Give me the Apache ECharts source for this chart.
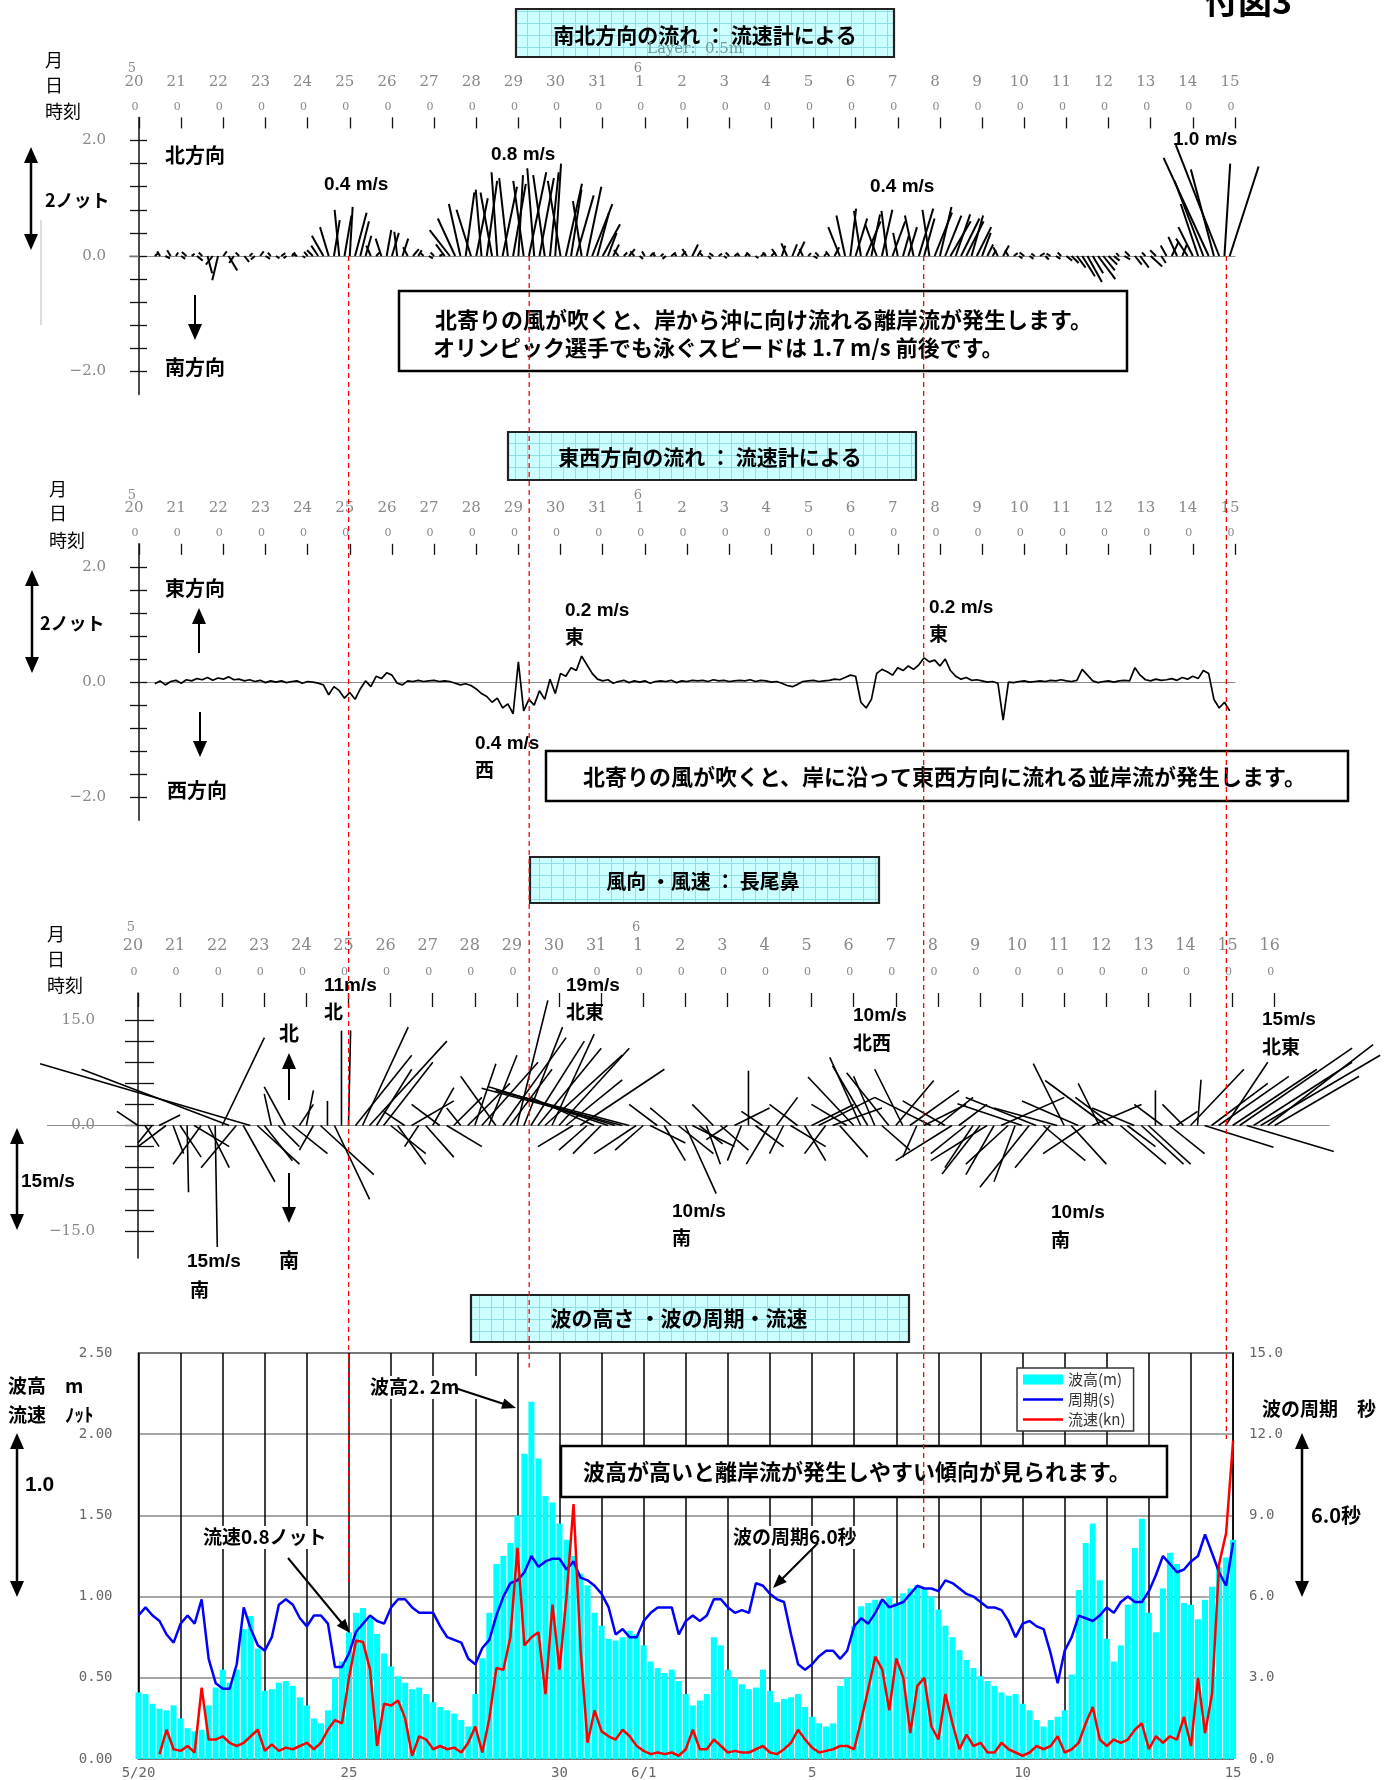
<!DOCTYPE html>
<html><head><meta charset="utf-8">
<script src="https://cdn.jsdelivr.net/npm/echarts@6/dist/echarts.min.js"></script>
<style>html,body{margin:0;padding:0;background:#fff}#c{width:1397px;height:1780px}</style>
</head><body><div id="c"></div>
<script>
// ---------------- DATA ----------------
// top axes: day labels (index = days after 5/20 0:00)
const dayLabels = ['20','21','22','23','24','25','26','27','28','29','30','31','1','2','3','4','5','6','7','8','9','10','11','12','13','14','15','16'];
const hourLabel = '0';
const monthTickDays = [0, 12];
const monthTickText = ['5', '6'];
const p1Ticks = [-2,-1.6,-1.2,-0.8,-0.4,0,0.4,0.8,1.2,1.6,2];
const p1Labels = [-2,0,2];
const windTicks = [-15,-12,-9,-6,-3,0,3,6,9,12,15];
const windLabels = [-15,0,15];
const waveTickDays = [0,5,10,12,16,21,26];
const waveTickText = ['5/20','25','30','6/1','5','10','15'];

// Panel 1 / 2 time base: 3-hourly from day 0.375
const curStart = 0.375, curStep = 0.125;
// north component (knots)
const snV = [0.05,0.08,-0.04,0.10,0.06,-0.05,0.07,0.04,
 -0.08,0.06,-0.30,-0.15,-0.42,0.08,-0.25,-0.12,
 0.06,-0.10,0.05,-0.06,0.08,-0.05,0.06,-0.04,
 0.05,-0.04,0.06,0.04,-0.03,0.07,0.10,0.18,
 0.35,0.50,0.62,0.80,0.70,0.85,0.75,0.60,
 0.35,0.18,0.06,0.30,0.45,0.40,0.42,0.30,
 0.15,0.12,0.10,0.05,-0.04,0.06,0.04,0.20,
 0.45,0.65,0.90,1.10,0.80,1.00,1.15,1.30,
 1.10,1.45,1.20,1.35,1.25,1.40,1.30,1.45,
 1.52,1.35,1.40,1.45,1.60,1.30,1.25,1.15,
 1.05,0.95,1.20,0.90,0.75,0.55,0.40,0.20,
 0.10,0.06,0.12,0.08,-0.05,0.08,0.06,0.05,
 0.04,-0.05,0.06,0.05,0.08,0.12,0.20,0.10,
 0.06,-0.05,0.05,0.04,-0.04,0.06,0.05,0.04,
 0.05,0.06,-0.04,0.05,0.06,0.07,0.12,0.18,
 0.22,0.20,0.25,0.12,0.05,-0.04,0.06,0.05,
 0.08,0.15,0.50,0.70,0.82,0.65,0.78,0.60,
 0.72,0.55,0.80,0.78,0.60,0.40,0.35,0.50,
 0.70,0.82,0.65,0.80,0.75,0.85,0.70,0.60,
 0.72,0.65,0.60,0.70,0.50,0.40,0.20,0.10,
 0.15,0.18,0.10,0.05,-0.04,0.06,-0.05,0.04,
 0.05,-0.06,0.04,-0.05,0.06,-0.08,-0.12,-0.20,
 -0.35,-0.45,-0.30,-0.40,-0.25,-0.15,-0.08,0.05,
 -0.06,0.08,-0.15,-0.20,0.06,-0.18,0.10,-0.12,
 0.18,0.25,0.33,0.20,0.30,0.50,0.90,1.30,
 1.70,1.50,1.92,1.60,1.55];
// east component of the sticks (knots)
const snU = [0.06,-0.05,0.08,-0.06,0.04,0.07,-0.08,0.05,
 0.10,-0.06,0.08,-0.12,-0.10,0.06,0.15,-0.08,
 -0.06,0.08,0.05,-0.07,0.06,0.08,-0.05,0.06,
 0.07,-0.05,0.06,-0.08,0.05,-0.06,-0.10,-0.12,
 -0.20,-0.15,0.10,-0.08,0.12,0.05,0.20,0.15,
 0.10,-0.08,0.06,-0.10,0.08,0.12,-0.05,0.10,
 -0.08,0.10,0.06,-0.05,0.07,-0.06,0.08,-0.15,
 -0.35,-0.30,-0.20,0.15,-0.25,0.20,-0.10,0.18,
 -0.20,-0.10,0.25,-0.15,0.22,0.08,-0.18,0.30,
 -0.12,0.25,-0.20,0.15,0.10,-0.22,0.28,0.18,
 0.30,-0.15,0.25,0.35,0.20,0.30,0.15,0.10,
 -0.08,0.06,0.10,-0.07,0.06,-0.05,0.08,-0.06,
 0.05,-0.06,0.08,-0.05,0.07,-0.08,0.10,0.06,
 -0.06,0.05,-0.07,0.06,0.05,-0.06,0.07,-0.05,
 0.06,-0.07,0.05,0.08,-0.06,0.07,-0.08,0.06,
 -0.10,0.08,0.12,-0.06,0.05,0.07,-0.06,0.05,
 -0.06,0.08,-0.20,-0.15,0.10,0.20,-0.12,0.25,
 0.15,-0.20,0.18,-0.10,0.22,-0.08,0.10,0.15,
 -0.15,0.25,0.18,-0.12,0.30,0.20,0.28,0.35,
 0.25,0.32,0.30,0.20,0.25,0.15,0.10,0.06,
 -0.08,0.10,-0.06,0.07,0.06,-0.08,0.07,-0.06,
 0.08,0.06,-0.07,0.08,-0.06,0.10,0.12,0.15,
 0.22,0.25,0.18,0.30,0.20,0.15,0.10,-0.05,
 0.10,-0.08,0.12,0.15,-0.06,0.20,-0.10,0.08,
 -0.10,0.12,-0.15,0.08,-0.20,-0.25,-0.30,-0.50,
 -0.78,-0.40,-0.75,0.10,0.50];
// east-west flow (knots)
const ewV = [-0.03,0.02,-0.05,0.01,0.03,-0.02,0.04,0.02,
 0.06,0.04,0.08,0.03,0.07,0.05,0.09,0.04,
 0.05,0.02,0.04,0.01,0.03,-0.01,0.02,0.00,
 0.02,-0.01,0.01,0.02,-0.02,0.01,0.00,-0.02,
 -0.05,-0.22,-0.08,-0.15,-0.28,-0.18,-0.30,-0.12,
 0.02,-0.08,0.10,0.06,0.16,0.12,-0.02,-0.05,
 0.02,0.01,0.03,0.01,0.02,0.03,0.01,0.02,
 0.01,-0.02,-0.05,-0.03,-0.06,-0.12,-0.20,-0.25,
 -0.35,-0.28,-0.45,-0.38,-0.55,0.35,-0.50,-0.30,
 -0.40,-0.15,-0.30,0.05,-0.20,0.15,0.10,0.25,
 0.20,0.45,0.30,0.15,0.05,0.02,0.04,-0.02,
 0.01,0.03,-0.01,0.02,0.00,0.02,-0.02,0.01,
 0.02,0.01,0.03,-0.01,0.02,0.01,0.03,0.02,
 0.03,0.01,0.04,0.02,0.03,0.01,0.02,0.03,
 0.02,0.04,0.01,0.03,0.02,0.00,0.01,-0.02,
 -0.06,-0.08,-0.04,0.01,0.02,0.03,0.01,0.02,
 0.03,0.05,0.04,0.08,0.12,0.10,-0.35,-0.45,
 -0.30,0.15,0.22,0.18,0.12,0.25,0.20,0.28,
 0.22,0.30,0.42,0.35,0.38,0.28,0.40,0.20,
 0.10,0.05,0.08,0.03,0.04,0.02,0.00,0.01,
 -0.02,-0.66,0.00,-0.01,0.01,0.02,0.00,0.01,
 0.02,0.01,0.03,0.02,0.04,0.02,0.01,0.03,
 0.22,0.12,0.02,-0.01,0.01,0.02,0.00,0.02,
 0.03,0.02,0.25,0.12,0.04,0.02,0.05,0.03,
 0.04,0.06,0.03,0.08,0.05,0.10,0.06,0.20,
 0.15,-0.30,-0.45,-0.35,-0.50];

// Wind (m/s), 4-hourly from day 0
const windStart = 0, windStep = 1/6;
const windU = [-3,2,-2,3,-4,1.5,
 3,0.2,5,-4,3,0.3,
 6,-21,-5,4.5,-29.9,6,
 4,-1,3,-3,5,2,
 1,-2,7.6,0,5,0,
 0.3,8,6.5,11,5,7,
 5,4,-3,6,-2,4,
 3,-4,5,4,-2,6,
 3,8,4,-5,9,6,
 4.4,5.5,7.6,9,11,6,
 10,8,-5,12,-4,-9,
 -4,-12,-18,-20,-19,-6,
 -4,5,-4,3,-3,5,
 4.4,6,3.3,2,-3,4,
 -3,5,-2,0,4,-3,
 -3.3,3,-2,5,-4,3,
 6,8,-3,7,4,-5,
 -6.5,-4.4,-5,-3,4,-6,
 5.4,-4,7,-2,6,-8,
 5,-6,-8,4,-5,-4,
 -5.4,-8,-4,9,-6,-3,
 -9.2,-7,-10,6,-5,-9,
 -4.4,5,-8,-6,7,-3,
 -8.7,-5.4,6.5,4,-6,6,
 6,0,-4,5,3,-3,
 7.6,0.5,9.8,8,10,6,
 12,16,12.4,14,17,15,
 12];
const windV = [2,-3,-2.5,1.5,-3,-4,
 -4.5,-9.5,-3,-5.5,-6,-17.3,
 12.5,8,-6,-8,8.8,-5.5,
 -5,4.5,-3,5.5,-4,3,
 5,-3.5,-7,3.5,-10.5,13.5,
 13.5,10,14,12,8,9,
 -4,-5.5,2,3.5,-3,-4.5,
 5.4,3,-3,4,2.5,6,
 8.8,9,10,7,12.5,8,
 17.8,14,12,11,10,13,
 11,6.5,-3,8,-3.5,4,
 -4,4,5.5,5.3,5,-4,
 -3.5,-2.5,3,-5,2.5,-4,
 -9.7,-3,-2.6,-5.5,3,-3.5,
 -2,2.5,-5,7.8,-3,2,
 -5.5,4,-4,-3,3,-5,
 3,4,-4,2.5,-4.5,3,
 6.9,9.7,8.5,7,-3.5,7.5,
 6.4,8,5,-4.5,3,4,
 4,3.5,-5,3,-4,-6,
 -6.9,-5,-7,4,-5.5,-8,
 3.1,-8.8,4,-5,-6,2.5,
 8.8,-5.5,3.5,-4,3,6,
 6.4,4,-5.5,-3,2.5,-5.5,
 -5.5,5,3,-4,2,3,
 8,6.5,-3.1,6,7,9,
 8,11,-3.7,9,10,11.5,
 7];

// Wave panel, 4-hourly from day 0
const waveStart = 0, waveStep = 1/6;
const waveH = [0.41,0.40,0.34,0.31,0.30,0.33,0.25,0.19,0.17,0.18,
 0.33,0.44,0.55,0.47,0.55,0.80,0.88,0.68,0.42,0.43,
 0.47,0.48,0.45,0.38,0.33,0.25,0.22,0.30,0.50,0.60,
 0.78,0.90,0.93,0.87,0.77,0.65,0.57,0.51,0.47,0.43,
 0.44,0.40,0.35,0.32,0.30,0.28,0.24,0.20,0.40,0.62,
 0.90,1.20,1.25,1.33,1.50,1.88,2.20,1.85,1.62,1.58,
 1.45,1.35,1.25,1.14,1.07,0.90,0.82,0.74,0.73,0.75,
 0.79,0.77,0.70,0.60,0.56,0.53,0.55,0.48,0.40,0.33,
 0.36,0.40,0.75,0.70,0.55,0.50,0.46,0.43,0.44,0.55,
 0.42,0.35,0.37,0.38,0.40,0.32,0.26,0.22,0.20,0.22,
 0.45,0.50,0.82,0.94,0.96,0.98,0.98,1.00,0.96,1.02,
 1.05,1.07,1.05,1.00,0.92,0.82,0.75,0.67,0.61,0.56,
 0.51,0.48,0.45,0.41,0.39,0.40,0.34,0.30,0.24,0.20,
 0.24,0.26,0.30,0.52,1.04,1.33,1.45,1.10,0.74,0.60,
 0.70,0.95,1.30,1.48,0.90,0.78,1.05,1.27,1.20,0.96,
 0.95,0.86,0.98,1.06,1.18,1.24,1.35];
const periodS = [5.3,5.6,5.3,5.1,4.6,4.3,5.0,5.3,5.0,5.9,
 3.7,2.8,2.6,2.6,3.5,5.6,4.8,4.2,4.0,4.5,
 5.7,5.9,5.7,5.2,4.9,5.3,5.3,5.0,3.4,3.4,
 3.9,4.7,5.0,5.3,5.1,5.0,5.6,5.9,5.9,5.6,
 5.4,5.4,5.4,4.9,4.5,4.4,4.3,3.7,3.5,4.1,
 4.4,5.3,6.0,6.5,6.6,6.9,7.5,7.1,7.3,7.4,
 7.4,7.0,7.3,6.7,6.6,6.4,6.1,5.6,4.6,4.8,
 4.5,4.5,5.1,5.4,5.6,5.6,5.6,4.6,5.1,5.3,
 5.1,5.3,5.9,5.9,5.6,5.4,5.5,5.4,6.5,6.4,
 6.1,5.9,5.8,4.6,3.5,3.3,3.5,3.8,4.0,4.0,
 3.7,4.0,4.9,5.2,5.0,5.4,5.9,5.6,5.7,5.8,
 6.1,6.4,6.3,6.3,6.2,6.6,6.5,6.3,6.1,6.0,
 5.8,5.6,5.6,5.5,5.1,4.5,5.0,5.1,4.9,4.8,
 3.9,2.8,4.0,4.5,5.3,5.2,5.1,5.3,5.6,5.4,
 5.8,6.0,5.8,5.8,6.2,6.8,7.5,7.2,6.9,7.0,
 7.3,7.5,8.3,7.6,6.9,6.4,8.0];
const currentKn = [null,null,null,0.03,0.18,0.06,0.05,0.08,0.04,0.44,
 0.12,0.12,0.14,0.10,0.08,0.10,0.14,0.18,0.05,0.09,
 0.05,0.07,0.06,0.08,0.10,0.06,0.10,0.18,0.24,0.22,
 0.50,0.73,0.72,0.55,0.08,0.34,0.33,0.36,0.25,0.02,
 0.14,0.12,0.06,0.08,0.06,0.07,0.04,0.10,0.20,0.04,
 0.25,0.56,0.55,0.75,1.30,0.70,0.75,0.78,0.40,0.95,
 0.55,1.00,1.57,0.68,0.10,0.30,0.17,0.14,0.12,0.18,
 0.14,0.08,0.05,0.03,0.04,0.03,0.04,0.02,0.06,0.18,
 0.06,0.06,0.12,0.08,0.04,0.05,0.04,0.04,0.06,0.08,
 0.04,0.03,0.06,0.10,0.18,0.12,0.07,0.04,0.05,0.06,
 0.08,0.08,0.06,0.24,0.43,0.63,0.55,0.30,0.62,0.50,
 0.16,0.45,0.50,0.20,0.12,0.40,0.22,0.06,0.15,0.08,
 0.10,0.04,0.04,0.10,0.06,0.04,0.02,0.04,0.08,0.06,
 0.08,0.14,0.04,0.06,0.10,0.22,0.32,0.12,0.08,0.12,
 0.10,0.12,0.18,0.22,0.06,0.14,0.10,0.14,0.12,0.26,
 0.08,0.50,0.16,0.40,1.20,1.39,1.96];

// red dashed reference lines: day, and lower end (wave-panel units)
const markerDays = [4.99, 9.28, 18.65, 25.84];
const markerEnds = [1.09, 2.41, 1.28, 1.97];

// ---------------- CHART ----------------
const chart = echarts.init(document.getElementById('c'));
const JP = '"Noto Sans CJK JP", sans-serif';
const AR = '"Liberation Sans", Arial, sans-serif';
const SERIF = '"DejaVu Serif", serif';
const MONO = '"DejaVu Sans Mono", monospace';
const P1_SCALE = 57.75 / 42.15;   // isotropic: days per knot
const W_SCALE = 7.03 / 42.1;      // isotropic: days per m/s
const LINE_ICON = 'path://M0,0 L0.01,0 Z M0,10 L0.01,10 Z M0,3.7 L40,3.7 L40,6.3 L0,6.3 Z';

const snData = snV.map((v, i) => [curStart + i * curStep, snU[i], v]);
const ewData = ewV.map((v, i) => [curStart + i * curStep, v]);
const windData = windV.map((v, i) => [windStart + i * windStep, windU[i], v]);
const hData = waveH.map((v, i) => [waveStart + i * waveStep, v]);
const pData = periodS.map((v, i) => [waveStart + i * waveStep, v]);
const cData = currentKn.map((v, i) => [waveStart + i * waveStep, v == null ? '-' : v]);
const mData = markerDays.map((d, i) => [d, markerEnds[i]]);

function stickRender(scale, color, width) {
  return function (params, api) {
    const t = api.value(0), u = api.value(1), v = api.value(2);
    const a = api.coord([t, 0]);
    const b = api.coord([t + u * scale, v]);
    return { type: 'line', shape: { x1: a[0], y1: a[1], x2: b[0], y2: b[1] },
      style: { stroke: color, lineWidth: width } };
  };
}
const fmt1 = v => (v < 0 ? '\u2212' : '') + Math.abs(v).toFixed(1);

function zeroAxis(gi, max) {
  return { gridIndex: gi, type: 'value', min: 0, max: max, position: 'bottom',
    axisLine: { show: true, onZero: true, lineStyle: { color: '#8c8c8c', width: 1.2 } },
    axisTick: { show: false }, axisLabel: { show: false }, splitLine: { show: false } };
}
function labelAxes(gi, max, mHour, mDay, mMonth, tickLen, daySize) {
  const base = { gridIndex: gi, type: 'value', min: 0, max: max, interval: 1, position: 'top',
    axisLine: { show: false, onZero: false }, splitLine: { show: false } };
  return [
    Object.assign({}, base, { axisTick: { show: true, inside: true, length: tickLen, lineStyle: { color: '#111', width: 1.3 } },
      axisLabel: { margin: mHour, formatter: () => hourLabel, fontSize: 11, color: '#888', fontFamily: SERIF, padding: [0, 8, 0, 0] } }),
    Object.assign({}, base, { axisTick: { show: false },
      axisLabel: { margin: mDay, formatter: v => dayLabels[Math.round(v)] || '', fontSize: daySize, color: '#888', fontFamily: SERIF, padding: [0, 10, 0, 0] } }),
    Object.assign({}, base, { axisTick: { show: false },
      axisLabel: { margin: mMonth, formatter: v => { const k = monthTickDays.indexOf(Math.round(v)); return k >= 0 ? monthTickText[k] : ''; },
        fontSize: 13, color: '#888', fontFamily: SERIF, padding: [0, 14, 0, 0] } })
  ];
}
function stickY(gi, min, max, ticks, labels, outLen, inLen, margin) {
  return [
    { gridIndex: gi, type: 'value', min: min, max: max, position: 'left',
      axisLine: { show: true, onZero: false, lineStyle: { color: '#111', width: 1.5 } },
      axisTick: { show: true, inside: false, length: outLen, customValues: ticks, lineStyle: { color: '#111', width: 1.3 } },
      axisLabel: { show: true, customValues: labels, margin: margin, formatter: fmt1, fontSize: 15, color: '#888', fontFamily: SERIF },
      splitLine: { show: false } },
    { gridIndex: gi, type: 'value', min: min, max: max, position: 'left',
      axisLine: { show: false, onZero: false },
      axisTick: { show: true, inside: true, length: inLen, customValues: ticks, lineStyle: { color: '#111', width: 1.3 } },
      axisLabel: { show: false }, splitLine: { show: false } }
  ];
}

const xAxes = [].concat(
  [zeroAxis(0, 26)], labelAxes(0, 26, 5, 28, 42, 11, 15),
  [zeroAxis(1, 26)], labelAxes(1, 26, 5, 28, 42, 11, 15),
  [zeroAxis(2, 28.29)], labelAxes(3, 27, 15, 39, 59, 14, 16),
  [{ gridIndex: 4, type: 'value', min: 0, max: 26, interval: 1, position: 'bottom',
     axisLine: { show: false, onZero: false }, axisTick: { show: false },
     axisLabel: { margin: 7, formatter: v => { const k = waveTickDays.indexOf(Math.round(v)); return k >= 0 ? waveTickText[k] : ''; },
       fontSize: 14, color: '#666', fontFamily: MONO },
     splitLine: { show: true, lineStyle: { color: '#000', width: 1.5 } } }]
);
const yAxes = [].concat(
  stickY(0, -2.4, 2.4, p1Ticks, p1Labels, 9, 8, 33),
  stickY(1, -2.4, 2.4, p1Ticks, p1Labels, 9, 8, 33),
  stickY(2, -18.85, 18.85, windTicks, windLabels, 13, 16, 43),
  [{ gridIndex: 3, type: 'value', min: -1, max: 1, show: false }],
  [{ gridIndex: 4, type: 'value', min: 0, max: 2.5, interval: 0.5, position: 'left',
     axisLine: { show: false, onZero: false }, axisTick: { show: false },
     axisLabel: { margin: 26, formatter: v => v.toFixed(2), fontSize: 14, color: '#666', fontFamily: MONO },
     splitLine: { show: true, lineStyle: { color: '#8a8a8a', width: 1.5 } } },
   { gridIndex: 4, type: 'value', min: 0, max: 15, interval: 3, position: 'right',
     axisLine: { show: false, onZero: false }, axisTick: { show: false },
     axisLabel: { margin: 16, formatter: v => v.toFixed(1), fontSize: 14, color: '#666', fontFamily: MONO },
     splitLine: { show: false } }]
);

// ---------- graphic annotations ----------
const G = [];
const pc = document.createElement('canvas'); pc.width = 12; pc.height = 12;
(function () { const g = pc.getContext('2d'); g.fillStyle = '#ccffff'; g.fillRect(0, 0, 12, 12);
  g.strokeStyle = '#8de0e6'; g.lineWidth = 1; g.beginPath(); g.moveTo(11.5, 0); g.lineTo(11.5, 12);
  g.moveTo(0, 11.5); g.lineTo(12, 11.5); g.stroke(); })();

function txt(x, y, text, size, o) {
  o = o || {};
  G.push({ type: 'text', x: x, y: y, z: 110, silent: true,
    style: { text: text, font: (o.weight || 'bold') + ' ' + size + 'px ' + (o.family || JP),
      fill: o.fill || '#000', textAlign: o.align || 'left', textVerticalAlign: o.valign || 'middle' } });
}
function rect(x, y, w, h, fill, stroke, lw, z) {
  G.push({ type: 'rect', z: z || 100, silent: true, shape: { x: x, y: y, width: w, height: h },
    style: { fill: fill, stroke: stroke || null, lineWidth: lw || 0 } });
}
function line(x1, y1, x2, y2, color, lw, z) {
  G.push({ type: 'line', z: z || 105, silent: true, shape: { x1: x1, y1: y1, x2: x2, y2: y2 }, style: { stroke: color, lineWidth: lw } });
}
function head(x1, y1, x2, y2, L, W) {
  const dx = x2 - x1, dy = y2 - y1, len = Math.hypot(dx, dy), ux = dx / len, uy = dy / len;
  const bx = x2 - ux * L, by = y2 - uy * L, px = -uy, py = ux;
  G.push({ type: 'polygon', z: 106, silent: true,
    shape: { points: [[x2, y2], [bx + px * W / 2, by + py * W / 2], [bx - px * W / 2, by - py * W / 2]] }, style: { fill: '#000' } });
  return [bx + ux * 2, by + uy * 2];
}
function arrow(x1, y1, x2, y2, L, W, lw, dbl) {
  const e = head(x1, y1, x2, y2, L, W);
  let s = [x1, y1];
  if (dbl) s = head(x2, y2, x1, y1, L, W);
  line(s[0], s[1], e[0], e[1], '#000', lw);
}
function titleBox(x, y, w, h, text, cx, cy, size) {
  G.push({ type: 'rect', z: 100, silent: true, shape: { x: x, y: y, width: w, height: h },
    style: { fill: { image: pc, repeat: 'repeat' }, stroke: '#222', lineWidth: 2.2 } });
  txt(cx, cy, text, size, { align: 'center' });
}

// title boxes
titleBox(516, 9, 378, 48, '南北方向の流れ ： 流速計による', 705, 35, 21);
txt(695, 49, 'Layer:  0.5m', 15, { weight: 'normal', family: SERIF, fill: '#6f9a9a', align: 'center' });
titleBox(508, 432, 408, 48, '東西方向の流れ ： 流速計による', 710, 457, 21);
titleBox(530, 857, 349, 46, '風向 ・風速 ： 長尾鼻', 703, 881, 20);
titleBox(471, 1295, 438, 47, '波の高さ ・波の周期・流速', 679, 1318, 21);
txt(1204, 18, '付図3', 34, { valign: 'bottom' });

// info boxes
rect(399, 291, 728, 80, '#fff', '#000', 2.5);
txt(435, 320, '北寄りの風が吹くと、岸から沖に向け流れる離岸流が発生します。', 22);
txt(433, 348, 'オリンピック選手でも泳ぐスピードは 1.7 m/s 前後です。', 22);
rect(546, 751, 802, 50, '#fff', '#000', 2.5);
txt(583, 777, '北寄りの風が吹くと、岸に沿って東西方向に流れる並岸流が発生します。', 22);
rect(561, 1446, 606, 51, '#fff', '#000', 2.5);
txt(583, 1472, '波高が高いと離岸流が発生しやすい傾向が見られます。', 22);

// panel headers 月 日 時刻
[[60, 85, 111], [489, 513, 540], [934, 959, 985]].forEach((ys, k) => {
  const x = [45, 49, 47][k];
  txt(x, ys[0], '月', 18, { weight: 'normal' });
  txt(x, ys[1], '日', 18, { weight: 'normal' });
  txt(x, ys[2], '時刻', 18, { weight: 'normal' });
});

// zero-line extensions left of the axes
line(129, 256.2, 139, 256.2, '#8c8c8c', 1.2, 1);
line(47, 1125.5, 138, 1125.5, '#8c8c8c', 1.2, 1);

// panel 1 labels
line(41, 220, 41, 325, '#bbb', 1);
txt(165, 155, '北方向', 20); txt(165, 367, '南方向', 20);
txt(45, 200, '2ノット', 18);
arrow(31, 147, 31, 250, 16, 14, 2.5, true);
arrow(195, 295, 195, 340, 16, 14, 2, false);
txt(324, 185, '0.4 m/s', 19, { family: AR });
txt(491, 155, '0.8 m/s', 19, { family: AR });
txt(870, 187, '0.4 m/s', 19, { family: AR });
txt(1173, 140, '1.0 m/s', 19, { family: AR });

// panel 2 labels
txt(165, 588, '東方向', 20); txt(167, 790, '西方向', 20);
txt(40, 623, '2ノット', 18);
arrow(32, 570, 32, 673, 16, 14, 2.5, true);
arrow(199, 653, 199, 608, 16, 14, 2, false);
arrow(200, 712, 200, 757, 16, 14, 2, false);
txt(565, 611, '0.2 m/s', 19, { family: AR }); txt(565, 637, '東', 19);
txt(475, 744, '0.4 m/s', 19, { family: AR }); txt(475, 770, '西', 19);
txt(929, 608, '0.2 m/s', 19, { family: AR }); txt(929, 634, '東', 19);

// panel 3 labels
txt(279, 1033, '北', 20); txt(279, 1260, '南', 20);
arrow(289, 1100, 289, 1053, 16, 14, 2, false);
arrow(289, 1173, 289, 1223, 16, 14, 2, false);
arrow(17, 1128, 17, 1230, 16, 14, 2.5, true);
txt(21, 1182, '15m/s', 19, { family: AR });
txt(324, 986, '11m/s', 19, { family: AR }); txt(324, 1012, '北', 19);
txt(566, 986, '19m/s', 19, { family: AR }); txt(566, 1012, '北東', 19);
txt(853, 1016, '10m/s', 19, { family: AR }); txt(853, 1043, '北西', 19);
txt(1262, 1020, '15m/s', 19, { family: AR }); txt(1262, 1047, '北東', 19);
txt(672, 1212, '10m/s', 19, { family: AR }); txt(672, 1238, '南', 19);
txt(1051, 1213, '10m/s', 19, { family: AR }); txt(1051, 1240, '南', 19);
txt(187, 1262, '15m/s', 19, { family: AR }); txt(190, 1290, '南', 19);

// panel 4 labels
txt(8, 1386, '波高　m', 19);
txt(8, 1415, '流速　ﾉｯﾄ', 19);
arrow(17, 1433, 17, 1597, 16, 14, 2.5, true);
txt(25, 1485, '1.0', 21, { family: AR });
txt(1262, 1409, '波の周期　秒', 19);
arrow(1302, 1433, 1302, 1597, 16, 14, 2.5, true);
txt(1311, 1515, '6.0秒', 20);
rect(366, 1376, 112, 23, '#fff', null, 0, 98);
txt(370, 1387, '波高2. 2m', 19);
arrow(455, 1388, 516, 1408, 14, 11, 2, false);
rect(199, 1526, 123, 23, '#fff', null, 0, 98);
txt(203, 1537, '流速0.8ノット', 19);
arrow(288, 1558, 350, 1633, 14, 11, 2, false);
rect(729, 1526, 141, 23, '#fff', null, 0, 98);
txt(733, 1537, '波の周期6.0秒', 19);
arrow(818, 1543, 773, 1588, 14, 11, 2, false);

const option = {
  animation: false,
  backgroundColor: '#fff',
  textStyle: { fontFamily: JP },
  grid: [
    { left: 139, top: 117.4, width: 1096, height: 277.2 },
    { left: 139, top: 543.8, width: 1096, height: 276.5 },
    { left: 138, top: 993, width: 1191, height: 265 },
    { left: 138, top: 993, width: 1136.7, height: 265 },
    { left: 138.5, top: 1353, width: 1094.6, height: 407, show: true, borderColor: '#000', borderWidth: 1.5, backgroundColor: 'transparent' }
  ],
  xAxis: xAxes,
  yAxis: yAxes,
  legend: {
    data: [{ name: '波高(m)', icon: 'rect' }, { name: '周期(s)', icon: LINE_ICON }, { name: '流速(kn)', icon: LINE_ICON }],
    orient: 'vertical', left: 1017, top: 1368, itemWidth: 40, itemHeight: 10, itemGap: 3,
    backgroundColor: '#fff', borderColor: '#333', borderWidth: 1.5, padding: [3, 8, 3, 6],
    selectedMode: false, textStyle: { fontSize: 15, color: '#333', fontFamily: JP, lineHeight: 17 }
  },
  graphic: { elements: G },
  series: [
    { type: 'custom', name: 'ns', xAxisIndex: 0, yAxisIndex: 0, clip: false, silent: true, z: 3,
      renderItem: stickRender(P1_SCALE, '#000', 2.0), encode: { x: 0, y: 2 }, data: snData },
    { type: 'line', name: 'ew', xAxisIndex: 4, yAxisIndex: 2, data: ewData, symbol: 'none', silent: true,
      lineStyle: { color: '#000', width: 1.7 }, z: 3 },
    { type: 'custom', name: 'wind', xAxisIndex: 8, yAxisIndex: 4, clip: false, silent: true, z: 3,
      renderItem: stickRender(W_SCALE, '#000', 1.6), encode: { x: 0, y: 2 }, data: windData },
    { type: 'bar', name: '波高(m)', xAxisIndex: 12, yAxisIndex: 7, data: hData, barWidth: 6,
      itemStyle: { color: '#00ffff' }, silent: true, z: 2 },
    { type: 'line', name: '周期(s)', xAxisIndex: 12, yAxisIndex: 8, data: pData, symbol: 'none', silent: true,
      lineStyle: { color: '#0000ff', width: 2.5 }, itemStyle: { color: '#0000ff' }, z: 4 },
    { type: 'line', name: '流速(kn)', xAxisIndex: 12, yAxisIndex: 7, data: cData, symbol: 'none', silent: true,
      lineStyle: { color: '#ff0000', width: 2.5 }, itemStyle: { color: '#ff0000' }, z: 5 },
    { type: 'custom', name: 'markers', xAxisIndex: 12, yAxisIndex: 7, clip: false, silent: true, z: 150,
      encode: { x: 0, y: 1 }, data: mData,
      renderItem: function (params, api) {
        const t = api.value(0), hEnd = api.value(1);
        const b = api.coord([t, hEnd]);
        let topY = null;
        try { const p = chart.convertToPixel({ xAxisIndex: 0, yAxisIndex: 0 }, [t, 0]); topY = p && p[1]; } catch (e) { }
        if (topY == null || isNaN(topY)) topY = 256;
        return { type: 'line', shape: { x1: b[0], y1: topY, x2: b[0], y2: b[1] },
          style: { stroke: '#ff0000', lineWidth: 1.3, lineDash: [5, 4] } };
      } }
  ]
};
chart.setOption(option);
</script></body></html>
